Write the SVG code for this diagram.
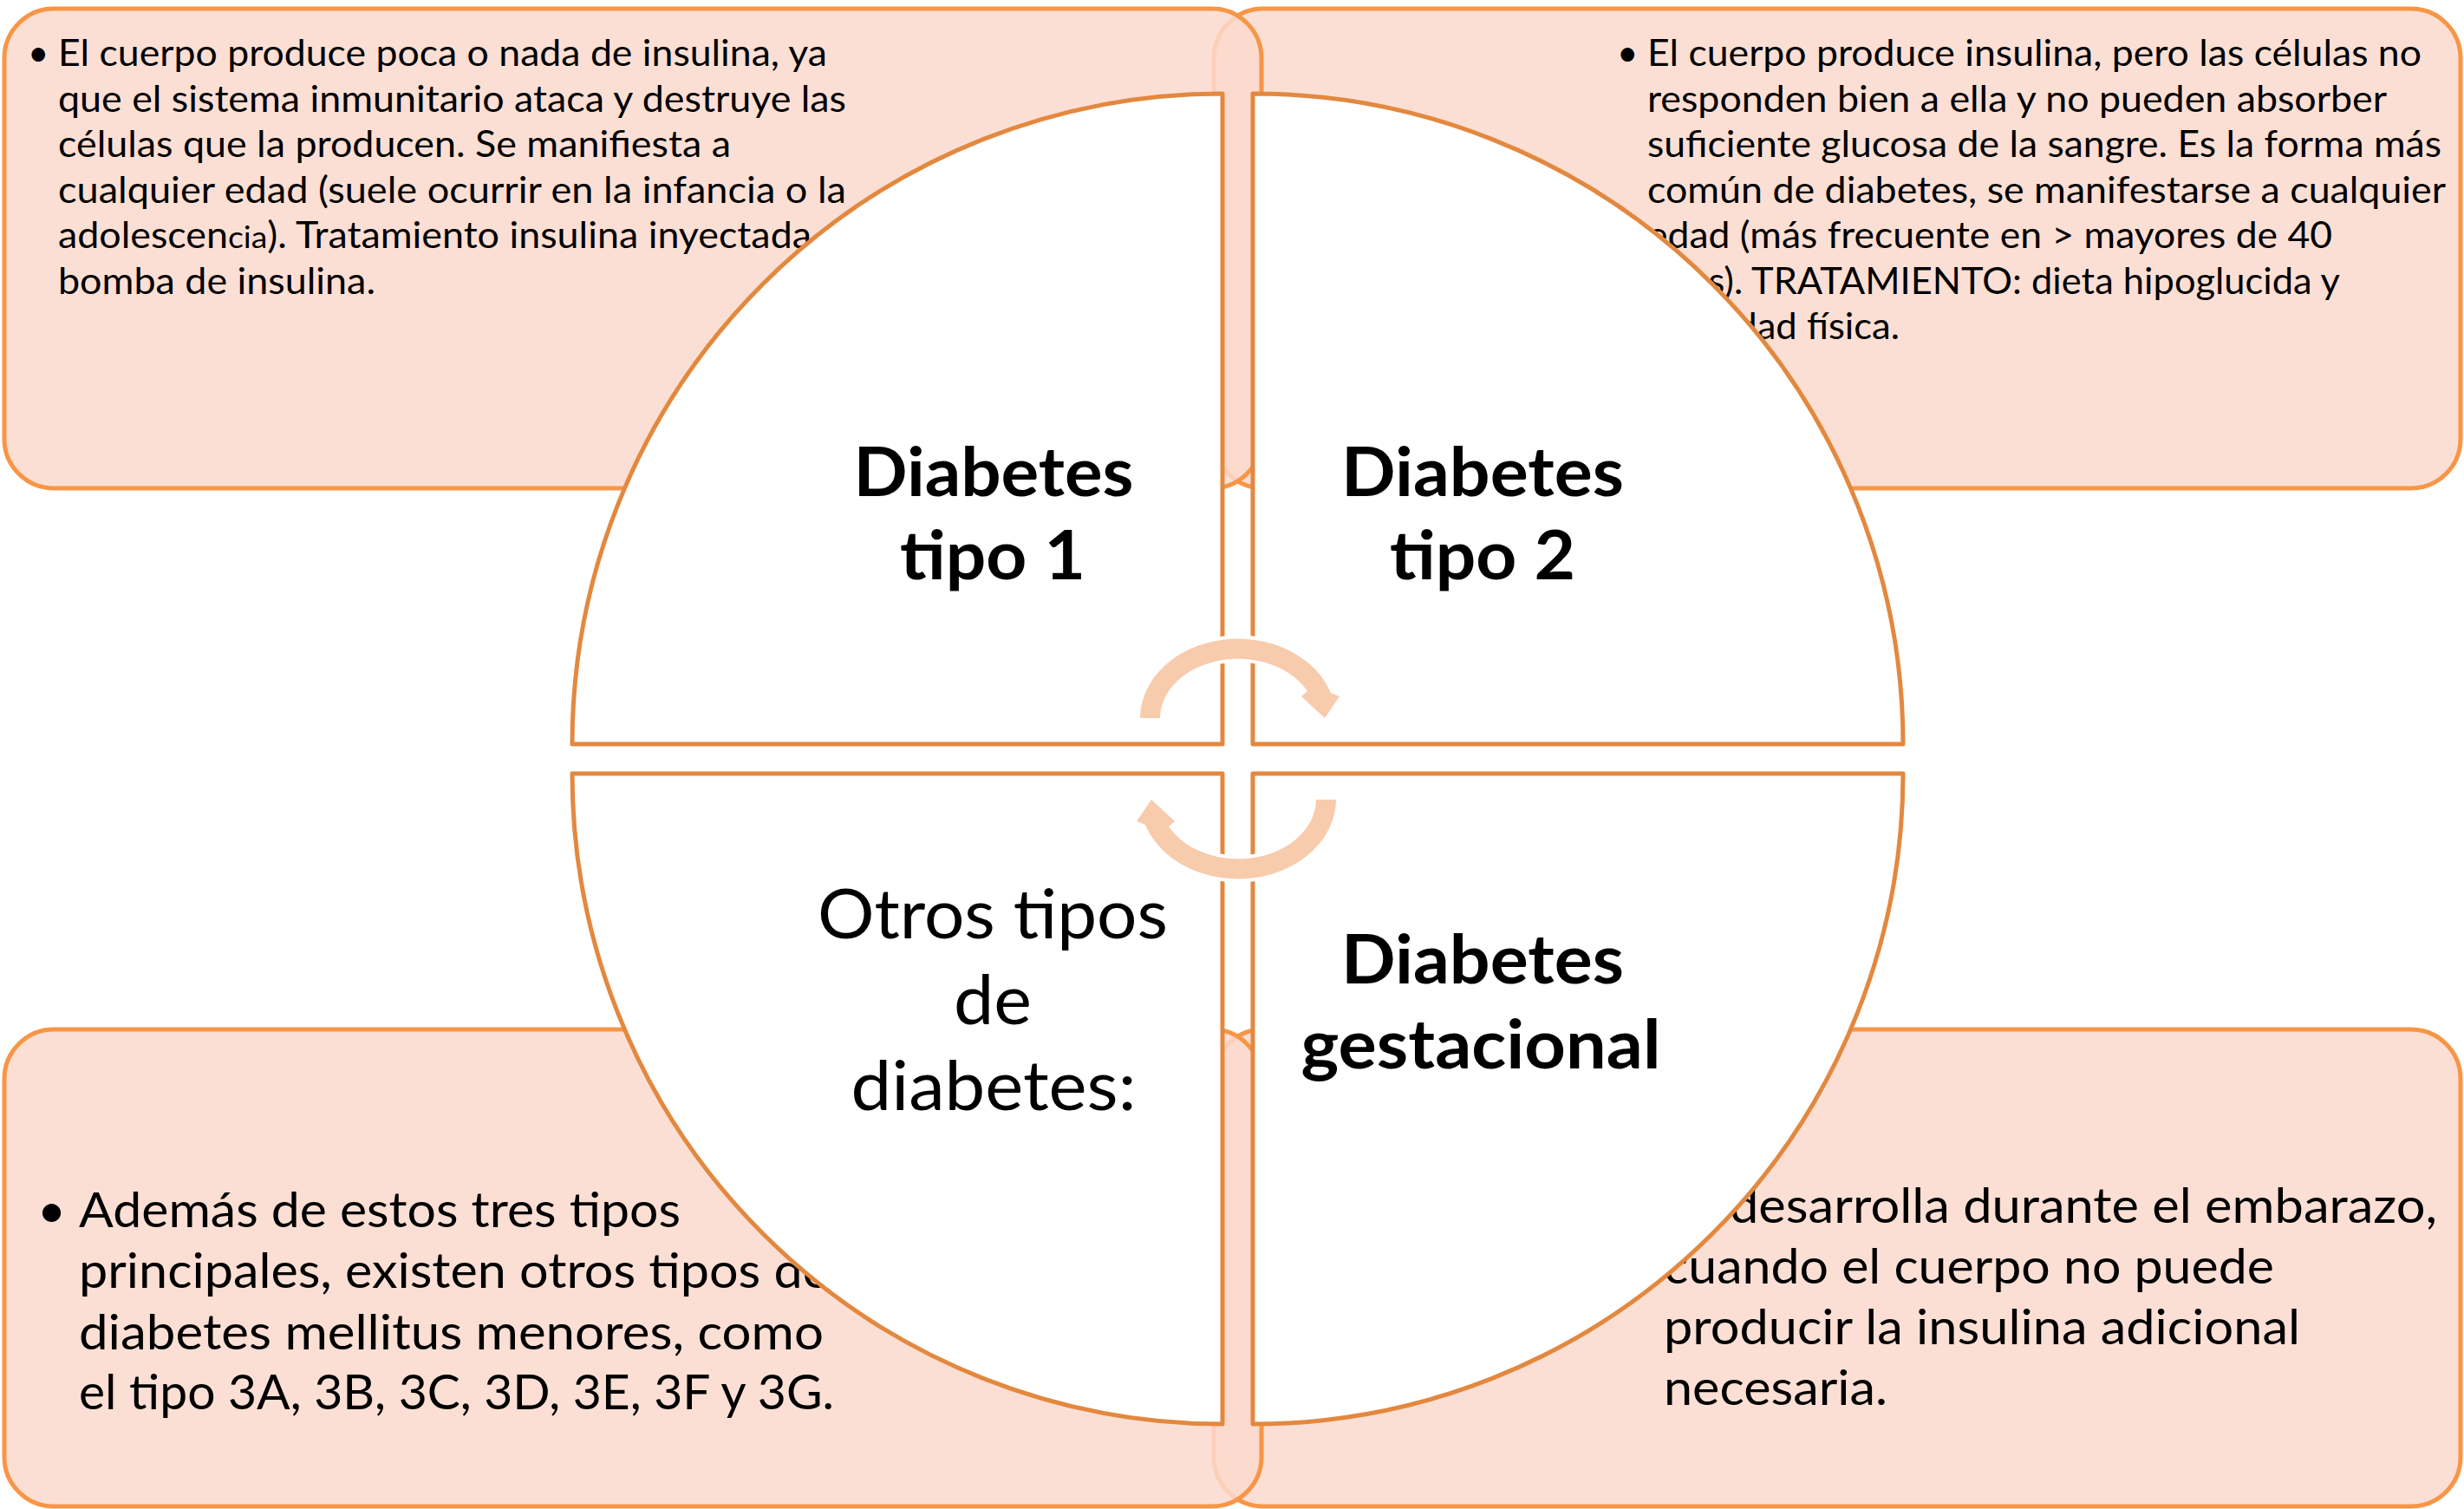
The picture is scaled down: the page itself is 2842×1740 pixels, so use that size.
<svg xmlns="http://www.w3.org/2000/svg" width="2842" height="1740" viewBox="0 0 2842 1740">
<defs>
<style>
.box{fill:#FBD9CC;fill-opacity:0.85;stroke:#F79646;stroke-width:5}
.quad{fill:#FFFFFF;stroke:#E3883F;stroke-width:5;stroke-linejoin:round}
.arr{fill:#F8CBAD;stroke:#FFFFFF;stroke-width:8;paint-order:stroke;stroke-linejoin:miter}
.t{font-family:Lato,'Liberation Sans',sans-serif;fill:#000000}
.sm{font-size:42px}
.lg{font-size:57px}
.ttl{font-size:79px;text-anchor:middle}
.b{font-weight:bold}
</style>
<path id="arrow" d="M 1315 828 A 113 92 0 0 1 1535 799 L 1545 803 L 1528 828 L 1501 803 L 1508 797 A 90 69 0 0 0 1338 828 Z"/>
</defs>
<rect width="2842" height="1740" fill="#FFFFFF"/>

<g id="box-tipo2">
<rect class="box" x="1400" y="10" width="1438" height="553" rx="57" ry="57"/>
<text class="t sm" x="1865" y="76">•</text>
<text class="t sm" x="1900" y="76" textLength="893" lengthAdjust="spacingAndGlyphs">El cuerpo produce insulina, pero las células no</text>
<text class="t sm" x="1900" y="129" textLength="853" lengthAdjust="spacingAndGlyphs">responden bien a ella y no pueden absorber</text>
<text class="t sm" x="1900" y="181" textLength="916" lengthAdjust="spacingAndGlyphs">suficiente glucosa de la sangre. Es la forma más</text>
<text class="t sm" x="1900" y="234" textLength="921" lengthAdjust="spacingAndGlyphs">común de diabetes, se manifestarse a cualquier</text>
<text class="t sm" x="1900" y="286" textLength="790" lengthAdjust="spacingAndGlyphs">edad (más frecuente en &gt; mayores de 40</text>
<text class="t sm" x="1900" y="339" textLength="799" lengthAdjust="spacingAndGlyphs">años). TRATAMIENTO: dieta hipoglucida y</text>
<text class="t sm" x="1900" y="391" textLength="291" lengthAdjust="spacingAndGlyphs">actividad física.</text>
</g>

<g id="box-gestacional">
<rect class="box" x="1400" y="1187" width="1438" height="550" rx="57" ry="57"/>
<text class="t lg" x="1995" y="1410" textLength="816" lengthAdjust="spacingAndGlyphs">desarrolla durante el embarazo,</text>
<text class="t lg" x="1919" y="1480" textLength="704" lengthAdjust="spacingAndGlyphs">cuando el cuerpo no puede</text>
<text class="t lg" x="1919" y="1550" textLength="734" lengthAdjust="spacingAndGlyphs">producir la insulina adicional</text>
<text class="t lg" x="1919" y="1620" textLength="258" lengthAdjust="spacingAndGlyphs">necesaria.</text>
</g>

<g id="box-tipo1">
<rect class="box" x="5" y="10" width="1450" height="553" rx="57" ry="57"/>
<text class="t sm" x="32" y="76">•</text>
<text class="t sm" x="67" y="76" textLength="887" lengthAdjust="spacingAndGlyphs">El cuerpo produce poca o nada de insulina, ya</text>
<text class="t sm" x="67" y="129" textLength="909" lengthAdjust="spacingAndGlyphs">que el sistema inmunitario ataca y destruye las</text>
<text class="t sm" x="67" y="181" textLength="776" lengthAdjust="spacingAndGlyphs">células que la producen. Se manifiesta a</text>
<text class="t sm" x="67" y="234" textLength="909" lengthAdjust="spacingAndGlyphs">cualquier edad (suele ocurrir en la infancia o la</text>
<text class="t sm" x="67" y="286" textLength="869" lengthAdjust="spacingAndGlyphs">adolescen<tspan font-size="35">cia</tspan>). Tratamiento insulina inyectada</text>
<text class="t sm" x="67" y="339" textLength="366" lengthAdjust="spacingAndGlyphs">bomba de insulina.</text>
</g>

<g id="box-otros">
<rect class="box" x="5" y="1187" width="1450" height="550" rx="57" ry="57"/>
<text class="t lg" x="43" y="1415">•</text>
<text class="t lg" x="91" y="1415" textLength="694" lengthAdjust="spacingAndGlyphs">Además de estos tres tipos</text>
<text class="t lg" x="91" y="1485" textLength="866" lengthAdjust="spacingAndGlyphs">principales, existen otros tipos de</text>
<text class="t lg" x="91" y="1556" textLength="859" lengthAdjust="spacingAndGlyphs">diabetes mellitus menores, como</text>
<text class="t lg" x="91" y="1625" textLength="871" lengthAdjust="spacingAndGlyphs">el tipo 3A, 3B, 3C, 3D, 3E, 3F y 3G.</text>
</g>

<g id="quad-tipo1">
<path class="quad" d="M 1410 858 L 660 858 A 750 750 0 0 1 1410 108 Z"/>
<text class="t ttl b" x="1146" y="572" textLength="323" lengthAdjust="spacingAndGlyphs">Diabetes</text>
<text class="t ttl b" x="1145" y="668" textLength="214" lengthAdjust="spacingAndGlyphs">tipo 1</text>
</g>
<g id="quad-tipo2">
<path class="quad" d="M 1445 858 L 1445 108 A 750 750 0 0 1 2195 858 Z"/>
<text class="t ttl b" x="1710" y="572" textLength="326" lengthAdjust="spacingAndGlyphs">Diabetes</text>
<text class="t ttl b" x="1710" y="668" textLength="214" lengthAdjust="spacingAndGlyphs">tipo 2</text>
</g>
<g id="quad-gestacional">
<path class="quad" d="M 1445 892 L 2195 892 A 750 750 0 0 1 1445 1642 Z"/>
<text class="t ttl b" x="1710" y="1134" textLength="326" lengthAdjust="spacingAndGlyphs">Diabetes</text>
<text class="t ttl b" x="1708" y="1232" textLength="415" lengthAdjust="spacingAndGlyphs">gestacional</text>
</g>
<g id="quad-otros">
<path class="quad" d="M 1410 892 L 1410 1642 A 750 750 0 0 1 660 892 Z"/>
<text class="t ttl" x="1145" y="1082" textLength="404" lengthAdjust="spacingAndGlyphs">Otros tipos</text>
<text class="t ttl" x="1145" y="1181" textLength="90" lengthAdjust="spacingAndGlyphs">de</text>
<text class="t ttl" x="1146" y="1280" textLength="329" lengthAdjust="spacingAndGlyphs">diabetes:</text>
</g>

<g id="connectors">
<use href="#arrow" class="arr"/>
<use href="#arrow" class="arr" transform="rotate(180 1428 875)"/>
</g>
</svg>
